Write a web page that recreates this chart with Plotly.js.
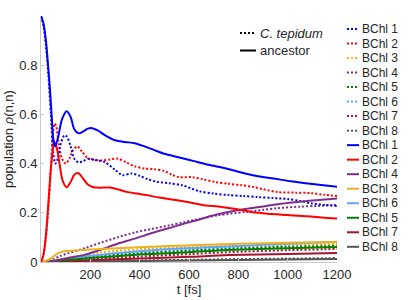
<!DOCTYPE html>
<html>
<head>
<meta charset="utf-8">
<script src="https://cdn.plot.ly/plotly-3.0.1.min.js"></script>
<style>html,body{margin:0;padding:0;background:#fff;}#chart{width:415px;height:300px;}</style>
</head>
<body>
<div id="chart"></div>
<script>
// ---- data ----
var siteNames = ['BChl 1','BChl 2','BChl 3','BChl 4','BChl 5','BChl 6','BChl 7','BChl 8'];
var siteColors = ['#0000ff','#ff0000','#EDB120','#7E2F8E','#008000','#63A4F5','#A2142F','#555555'];

// C. tepidum (dotted)
var tTep1 = [0,10,20,30,40,50,58,68,80,95,105,120,135,152,170,192,220,260,300,330,368,400,432,470,520,573,640,700,760,820,880,940,1000,1050,1093,1150,1200];
var tep1  = [1.0,0.96,0.88,0.76,0.60,0.44,0.40,0.42,0.48,0.515,0.51,0.47,0.42,0.405,0.41,0.42,0.415,0.405,0.375,0.353,0.36,0.35,0.337,0.326,0.32,0.312,0.288,0.278,0.272,0.268,0.264,0.26,0.256,0.248,0.239,0.232,0.228];
var tTep2 = [0,10,20,30,40,48,55,62,72,85,100,115,130,148,165,192,220,248,280,312,345,380,420,460,500,530,560,613,660,707,760,813,860,900,960,1030,1093,1150,1200];
var tep2  = [0,0.03,0.10,0.22,0.38,0.52,0.563,0.55,0.48,0.42,0.40,0.42,0.455,0.47,0.45,0.42,0.415,0.413,0.417,0.42,0.405,0.389,0.38,0.377,0.37,0.355,0.345,0.345,0.335,0.325,0.318,0.312,0.305,0.296,0.284,0.282,0.28,0.273,0.268];
var tTep3 = [0,40,80,150,250,400,600,800,1000,1200];
var tep3  = [0,0.005,0.012,0.025,0.04,0.052,0.06,0.066,0.07,0.073];
var tTep4 = [0,40,80,112,180,247,313,380,447,520,580,650,720,827,900,960,1050,1120,1200];
var tep4  = [0,0.008,0.025,0.036,0.057,0.08,0.101,0.12,0.134,0.149,0.162,0.177,0.19,0.203,0.212,0.219,0.225,0.228,0.232];
var tTep5 = [0,100,200,400,600,800,1000,1200];
var tep5  = [0,0.01,0.02,0.035,0.046,0.055,0.062,0.066];
var tTep6 = [0,100,200,400,600,800,1000,1200];
var tep6  = [0,0.01,0.02,0.038,0.05,0.06,0.067,0.072];
var tTep7 = [0,100,200,400,600,760,1000,1200];
var tep7  = [0,0.005,0.011,0.022,0.032,0.04,0.048,0.053];
var tTep8 = [0,200,400,600,800,1000,1200];
var tep8  = [0,0.003,0.006,0.009,0.012,0.014,0.016];

// ancestor (solid)
var tAnc1 = [0,10,20,27,35,43,50,58,70,85,104,120,135,152,170,190,208,230,260,300,340,380,420,460,500,540,573,620,680,747,800,880,950,1013,1100,1200];
var anc1  = [1.0,0.97,0.90,0.82,0.72,0.60,0.50,0.47,0.51,0.58,0.613,0.59,0.54,0.523,0.53,0.542,0.544,0.535,0.515,0.495,0.488,0.483,0.47,0.455,0.44,0.43,0.422,0.41,0.395,0.381,0.367,0.349,0.338,0.328,0.317,0.306];
var tAnc2 = [0,10,20,30,40,50,56,65,75,88,104,120,135,152,170,190,213,240,280,320,347,390,427,480,547,600,667,720,790,853,920,1000,1080,1150,1200];
var anc2  = [0,0.03,0.11,0.24,0.38,0.47,0.487,0.46,0.40,0.33,0.304,0.325,0.355,0.361,0.34,0.315,0.304,0.302,0.303,0.293,0.285,0.278,0.272,0.262,0.252,0.243,0.23,0.226,0.215,0.203,0.196,0.191,0.186,0.18,0.177];
var tAnc3 = [0,20,40,60,80,100,150,240,400,640,840,1000,1200];
var anc3  = [0,0.005,0.015,0.03,0.04,0.045,0.048,0.053,0.06,0.069,0.075,0.078,0.081];
var tAnc4 = [0,40,80,120,180,250,313,380,447,520,580,640,693,760,827,900,960,1030,1100,1200];
var anc4  = [0,0.002,0.01,0.018,0.03,0.053,0.075,0.095,0.117,0.138,0.156,0.172,0.188,0.203,0.215,0.226,0.235,0.243,0.25,0.258];
var tAnc5 = [0,100,200,400,600,760,1000,1200];
var anc5  = [0,0.008,0.016,0.03,0.04,0.049,0.056,0.061];
var tAnc6 = [0,50,100,200,300,450,600,760,900,1050,1200];
var anc6  = [0,0.005,0.012,0.025,0.036,0.048,0.056,0.063,0.07,0.076,0.082];
var tAnc7 = [0,100,200,400,600,760,1000,1200];
var anc7  = [0,0.003,0.007,0.014,0.021,0.028,0.033,0.037];
var tAnc8 = [0,200,400,600,800,1000,1200];
var anc8  = [0,0.002,0.004,0.006,0.008,0.01,0.012];

var xTickVals = [200,400,600,800,1000,1200];
var yTickVals = [0,0.2,0.4,0.6,0.8];
var yTickText = ['0','0.2','0.4','0.6','0.8'];
var ancLegendOrder = [0,1,3,2,5,4,6,7]; // BChl 1,2,4,3,6,5,7,8

// ---- build ----
var tepT = [tTep1,tTep2,tTep3,tTep4,tTep5,tTep6,tTep7,tTep8];
var tepY = [tep1,tep2,tep3,tep4,tep5,tep6,tep7,tep8];
var ancT = [tAnc1,tAnc2,tAnc3,tAnc4,tAnc5,tAnc6,tAnc7,tAnc8];
var ancY = [anc1,anc2,anc3,anc4,anc5,anc6,anc7,anc8];
var DOT = '2px,2px';

var traces = [];
for (var i = 7; i >= 0; i--) {
  traces.push({x: tepT[i], y: tepY[i], type:'scatter', mode:'lines', showlegend:false, hoverinfo:'skip',
    line:{color: siteColors[i], width:2, dash:DOT, shape:'spline', smoothing:0.8}});
}
for (var i = 7; i >= 0; i--) {
  traces.push({x: ancT[i], y: ancY[i], type:'scatter', mode:'lines', showlegend:false, hoverinfo:'skip',
    line:{color: siteColors[i], width:2, shape:'spline', smoothing:0.8}});
}

// layout helpers (pixel -> paper)
var L = 41, R = 337, T = 16, B = 262;
function px(x){ return (x - L) / (R - L); }
function py(y){ return (B - y) / (B - T); }
var FONT = 'Liberation Sans, Arial, Helvetica, sans-serif';
var TXT = '#262626';

var shapes = [], annotations = [];
var legendEntries = [];
for (var i = 0; i < 8; i++) legendEntries.push({name: siteNames[i], color: siteColors[i], dash:DOT});
for (var k = 0; k < 8; k++) { var j = ancLegendOrder[k]; legendEntries.push({name: siteNames[j], color: siteColors[j], dash:'solid'}); }
for (var i = 0; i < legendEntries.length; i++) {
  var yy = 29 + i * 14.52;
  var e = legendEntries[i];
  shapes.push({type:'line', xref:'paper', yref:'paper', x0: px(347), x1: px(359), y0: py(yy), y1: py(yy),
    line:{color: e.color, width:2, dash: e.dash}});
  annotations.push({xref:'paper', yref:'paper', x: px(360), y: py(yy), xanchor:'left', yanchor:'middle',
    text: e.name, showarrow:false, font:{family:FONT, size:12, color:TXT}});
}
var styleEntries = [{name:'<i>C. tepidum</i>', dash:DOT, y:33}, {name:'ancestor', dash:'solid', y:50.5}];
styleEntries.forEach(function(e){
  shapes.push({type:'line', xref:'paper', yref:'paper', x0: px(240), x1: px(256), y0: py(e.y), y1: py(e.y),
    line:{color:'#000000', width:2, dash:e.dash}});
  annotations.push({xref:'paper', yref:'paper', x: px(258), y: py(e.y), xanchor:'left', yanchor:'middle',
    text: e.name, showarrow:false, font:{family:FONT, size:13, color:TXT}});
});

var layout = {
  width:415, height:300,
  margin:{l:L, r:415-R, t:T, b:300-B},
  paper_bgcolor:'#ffffff', plot_bgcolor:'#ffffff',
  showlegend:false,
  font:{family:FONT, size:13, color:TXT},
  xaxis:{range:[0,1200], tickvals:xTickVals, ticktext:xTickVals.map(String), showgrid:false, zeroline:false,
    showline:true, linecolor:'#c8c8c8', linewidth:1, ticks:'inside', ticklen:3, tickcolor:'#c8c8c8',
    tickfont:{family:FONT, size:13, color:TXT},
    title:{text:'t [fs]', font:{family:FONT, size:13, color:TXT}, standoff:2}, automargin:false},
  yaxis:{range:[0,1], tickvals:yTickVals, ticktext:yTickText, showgrid:false, zeroline:false,
    showline:true, linecolor:'#c8c8c8', linewidth:1, ticks:'inside', ticklen:3, tickcolor:'#c8c8c8',
    tickfont:{family:FONT, size:13, color:TXT},
    title:{text:'population <i>ρ</i>(n,n)', font:{family:FONT, size:13, color:TXT}, standoff:2}, automargin:false},
  shapes: shapes,
  annotations: annotations
};

Plotly.newPlot('chart', traces, layout, {staticPlot:true, displayModeBar:false});
</script>
</body>
</html>
